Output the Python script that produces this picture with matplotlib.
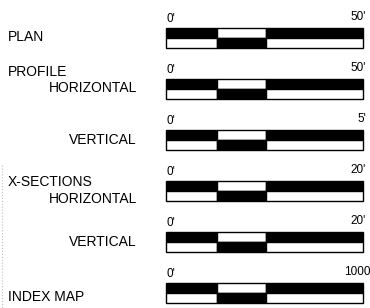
import matplotlib.pyplot as plt

plt.rcParams['font.family'] = ['Liberation Sans', 'DejaVu Sans']

# scale bar content
group_labels = ["PLAN", "PROFILE", "", "X-SECTIONS", "", "INDEX MAP"]
sub_labels = ["", "HORIZONTAL", "VERTICAL", "HORIZONTAL", "VERTICAL", ""]
start_labels = ["0'", "0'", "0'", "0'", "0'", "0'"]
end_labels = ["50'", "50'", "5'", "20'", "20'", "1000'"]
# scale divisions, as fractions of the full bar
seg_edges = [0.0, 0.26, 0.51, 1.0]
top_colors = ["black", "white", "black"]
bottom_colors = ["white", "black", "white"]

W, H = 370, 308
fig = plt.figure(figsize=(W / 100, H / 100), dpi=100)
ax = fig.add_axes([0, 0, 1, 1])
ax.set_xlim(0, W)
ax.set_ylim(H, 0)
ax.axis('off')

x0, x1 = 166, 363
bar_len = x1 - x0
row_gap = 51
half_h = 10
# label offsets from bar centre (group, sub), in pixels
group_dy = [-1, -17, 0, -9, 0, 4]
sub_dy = [0, -1, 0, 8, 0, 0]

for i in range(len(end_labels)):
    ymid = 38 + i * row_gap
    for k in range(len(seg_edges) - 1):
        left = x0 + seg_edges[k] * bar_len
        width = (seg_edges[k + 1] - seg_edges[k]) * bar_len
        ax.barh(ymid - half_h / 2, width, height=half_h, left=left,
                color=top_colors[k], edgecolor='black', linewidth=1.0)
        ax.barh(ymid + half_h / 2, width, height=half_h, left=left,
                color=bottom_colors[k], edgecolor='black', linewidth=1.0)
    ax.text(x0 + 0.5, ymid - 19, start_labels[i], fontsize=8.5,
            ha='left', va='center')
    end_x = x1 + 3 if i < len(end_labels) - 1 else 373
    ax.text(end_x, ymid - 21, end_labels[i], fontsize=8.5,
            ha='right', va='center')

    if group_labels[i]:
        ax.text(8, ymid + group_dy[i], group_labels[i], fontsize=10,
                ha='left', va='center')
    if sub_labels[i]:
        ax.text(137, ymid + sub_dy[i], sub_labels[i], fontsize=10,
                ha='right', va='center')

# faint dotted edge left from the scan
ax.plot([1.5, 1.5], [165, 308], color='#c0c0c0', linestyle=':', linewidth=0.8)

fig.savefig('out.png', dpi=100)
